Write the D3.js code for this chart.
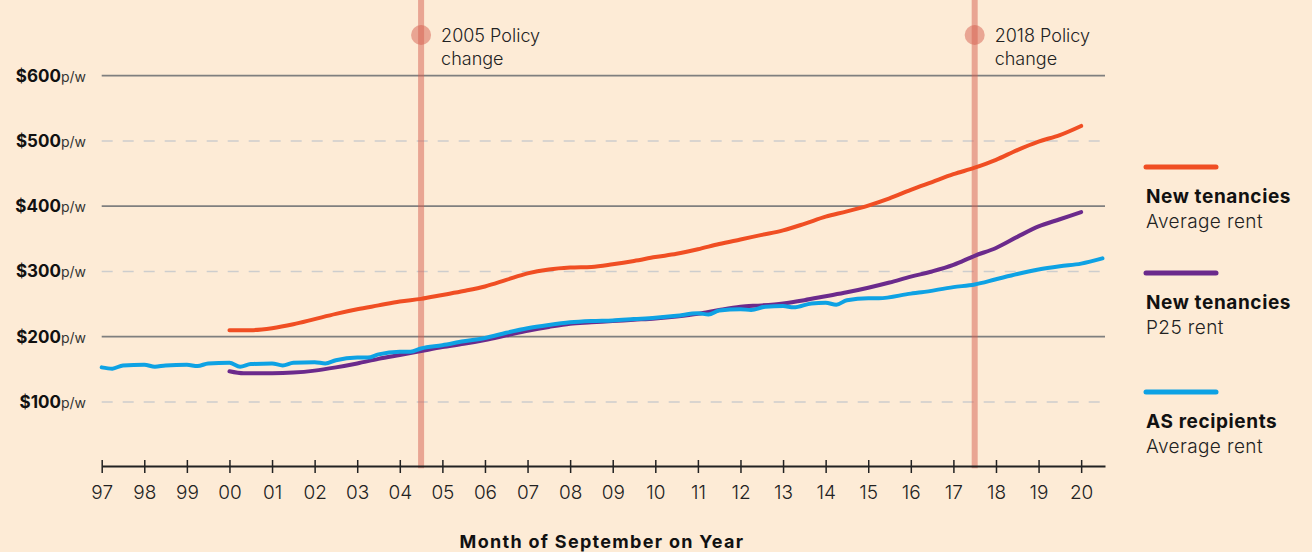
<!DOCTYPE html>
<html>
<head>
<meta charset="utf-8">
<script src="https://cdn.jsdelivr.net/npm/d3@7"></script>
<style>
  html, body { margin: 0; padding: 0; background: #FDEBD6; }
  svg { display: block; font-family: Inter, "Noto Sans", sans-serif; }
</style>
</head>
<body>
<svg id="chart" width="1312" height="552"></svg>
<script>
// Month strings are "YYYY-MM"; ticks sit on September of each year
const yearTicks = d3.range(1997, 2021);
const gridValues = [100, 200, 300, 400, 500, 600];
const policyDates = ["2005-03", "2018-03"];
const policyLabels = [["2005 Policy", "change"], ["2018 Policy", "change"]];

const newAvg = [
  ["2000-09", 210], ["2001-03", 210], ["2001-09", 213], ["2002-03", 219], ["2002-09", 227],
  ["2003-03", 235], ["2003-09", 242], ["2004-03", 248], ["2004-09", 254], ["2005-03", 258],
  ["2005-09", 264], ["2006-03", 270], ["2006-09", 277], ["2007-03", 287], ["2007-09", 297],
  ["2008-03", 303], ["2008-09", 306], ["2009-03", 307], ["2009-09", 311], ["2010-03", 316],
  ["2010-09", 322], ["2011-03", 327], ["2011-09", 334], ["2012-03", 342], ["2012-09", 349],
  ["2013-03", 356], ["2013-09", 363], ["2014-03", 373], ["2014-09", 384], ["2015-03", 392],
  ["2015-09", 401], ["2016-03", 412], ["2016-09", 425], ["2017-03", 437], ["2017-09", 449],
  ["2018-03", 459], ["2018-09", 471], ["2019-03", 486], ["2019-09", 499], ["2020-03", 509],
  ["2020-09", 523]
];

const newP25 = [
  ["2000-09", 147], ["2001-01", 144], ["2001-09", 144], ["2002-03", 145], ["2002-09", 148],
  ["2003-03", 153], ["2003-09", 159], ["2004-03", 166], ["2004-09", 172], ["2005-03", 178],
  ["2005-09", 184], ["2006-03", 189], ["2006-09", 195], ["2007-03", 202], ["2007-09", 209],
  ["2008-03", 215], ["2008-09", 220], ["2009-03", 222], ["2009-09", 224], ["2010-03", 226],
  ["2010-09", 228], ["2011-03", 231], ["2011-09", 235], ["2012-03", 241], ["2012-09", 246],
  ["2013-03", 248], ["2013-09", 251], ["2014-03", 256], ["2014-09", 262], ["2015-03", 268],
  ["2015-09", 275], ["2016-03", 283], ["2016-09", 292], ["2017-03", 300], ["2017-09", 310],
  ["2018-03", 324], ["2018-09", 336], ["2019-03", 353], ["2019-09", 369], ["2020-03", 380],
  ["2020-09", 391]
];

const asAvg = [
  ["1997-09", 153], ["1997-12", 151], ["1998-03", 156], ["1998-09", 157], ["1998-12", 154],
  ["1999-03", 156], ["1999-09", 157], ["1999-12", 155], ["2000-03", 159], ["2000-09", 160],
  ["2000-12", 154], ["2001-03", 158], ["2001-09", 159], ["2001-12", 156], ["2002-03", 160],
  ["2002-09", 161], ["2002-12", 159], ["2003-03", 164], ["2003-09", 168], ["2003-12", 168],
  ["2004-03", 173], ["2004-09", 177], ["2004-12", 177], ["2005-03", 182], ["2005-09", 187],
  ["2006-03", 193], ["2006-09", 198], ["2007-03", 206], ["2007-09", 213], ["2008-03", 218],
  ["2008-09", 222], ["2009-03", 224], ["2009-09", 225], ["2010-03", 227], ["2010-09", 229],
  ["2011-03", 232], ["2011-09", 236], ["2011-12", 234], ["2012-03", 240], ["2012-09", 242],
  ["2012-12", 241], ["2013-04", 246], ["2013-09", 247], ["2013-12", 245], ["2014-05", 251],
  ["2014-09", 252], ["2014-12", 249], ["2015-03", 256], ["2015-09", 259], ["2015-12", 259],
  ["2016-09", 266], ["2016-12", 268], ["2017-09", 276], ["2018-03", 280], ["2018-09", 288],
  ["2019-03", 296], ["2019-09", 303], ["2020-03", 308], ["2020-09", 312], ["2021-03", 320]
];

const seriesNames = [["New tenancies", "Average rent"], ["New tenancies", "P25 rent"], ["AS recipients", "Average rent"]];
const seriesColors = ["#F04E23", "#6B2A8C", "#0EA2E4"];

// "YYYY-MM" -> years since the September tick
function toYear(s) {
  const [yr, mo] = s.split("-").map(Number);
  return yr + (mo - 9) / 12;
}

const svg = d3.select("#chart");
svg.append("rect").attr("width", 1312).attr("height", 552).attr("fill", "#FDEBD6");

const x = d3.scaleLinear().domain([1997, 2020.56]).range([101.7, 1105]);
const y = d3.scaleLinear().domain([0, 600]).range([467.2, 75.7]);

// Gridlines: solid every 200, dashed in between
svg.append("g")
  .selectAll("line")
  .data(gridValues)
  .join("line")
  .attr("x1", x.range()[0])
  .attr("x2", x.range()[1])
  .attr("y1", d => y(d))
  .attr("y2", d => y(d))
  .attr("stroke", d => d % 200 === 0 ? "#7f7f7f" : "#cdcdcd")
  .attr("stroke-width", d => d % 200 === 0 ? 1.8 : 1.5)
  .attr("stroke-dasharray", d => d % 200 === 0 ? null : "11,10");

// Y labels
const yLab = svg.append("g")
  .selectAll("text")
  .data(gridValues)
  .join("text")
  .attr("x", 86)
  .attr("y", d => y(d) + 6)
  .attr("text-anchor", "end")
  .attr("fill", "#111");
yLab.append("tspan").attr("font-weight", 700).attr("font-size", 17).text(d => "$" + d);
yLab.append("tspan").attr("font-size", 14).attr("fill", "#333").text("p/w");

// Policy markers
const policy = svg.append("g")
  .selectAll("g")
  .data(policyDates)
  .join("g")
  .attr("transform", d => `translate(${x(toYear(d))},0)`);
policy.append("line")
  .attr("y1", 0).attr("y2", y(0) + 1)
  .attr("stroke", "rgba(214,96,80,0.5)")
  .attr("stroke-width", 6);
policy.append("circle")
  .attr("cy", 35).attr("r", 10)
  .attr("fill", "rgba(214,96,80,0.5)");
policy.each(function(d, i) {
  const t = d3.select(this).append("text")
    .attr("x", 20).attr("y", 42)
    .attr("font-size", 18).attr("font-weight", 300).attr("fill", "#222");
  policyLabels[i].forEach((s, j) => t.append("tspan").attr("x", 20).attr("dy", j ? 23 : 0).text(s));
});

// Lines
const line = d3.line()
  .x(d => x(toYear(d[0])))
  .y(d => y(d[1]))
  .curve(d3.curveMonotoneX);

svg.append("g")
  .attr("fill", "none")
  .attr("stroke-width", 4)
  .attr("stroke-linecap", "round")
  .attr("stroke-linejoin", "round")
  .selectAll("path")
  .data([newAvg, newP25, asAvg])
  .join("path")
  .attr("stroke", (d, i) => seriesColors[i])
  .attr("d", line);

// X axis
const xAxis = d3.axisBottom(x)
  .tickValues(yearTicks)
  .tickFormat(d => String(d).slice(2))
  .tickSize(7)
  .tickSizeOuter(0);
const ax = svg.append("g")
  .attr("transform", "translate(0,466)")
  .call(xAxis);
ax.select(".domain").attr("stroke", "#222").attr("stroke-width", 2);
ax.selectAll(".tick line").attr("stroke", "#222").attr("stroke-width", 1.5).attr("y1", -6);
ax.selectAll(".tick text")
  .attr("y", 20)
  .attr("font-family", "Inter, 'Noto Sans', sans-serif")
  .attr("font-size", 19)
  .attr("font-weight", 300)
  .attr("fill", "#222");

svg.append("text")
  .attr("x", 602).attr("y", 548)
  .attr("text-anchor", "middle")
  .attr("font-size", 18).attr("font-weight", 700).attr("fill", "#111")
  .attr("letter-spacing", 1.3)
  .text("Month of September on Year");

// Legend
const legendY = [167, 273, 392];
const legend = svg.append("g")
  .selectAll("g")
  .data(seriesNames)
  .join("g")
  .attr("transform", (d, i) => `translate(1146,${legendY[i]})`);
legend.append("line")
  .attr("x1", 0).attr("x2", 70)
  .attr("stroke", (d, i) => seriesColors[i])
  .attr("stroke-width", 5)
  .attr("stroke-linecap", "round");
legend.append("text")
  .attr("y", 36)
  .attr("font-size", 19).attr("font-weight", 700).attr("fill", "#111")
  .attr("letter-spacing", 0.6)
  .text(d => d[0]);
legend.append("text")
  .attr("y", 61)
  .attr("font-size", 19).attr("font-weight", 300).attr("fill", "#222")
  .attr("letter-spacing", 0.4)
  .text(d => d[1]);
</script>
</body>
</html>
